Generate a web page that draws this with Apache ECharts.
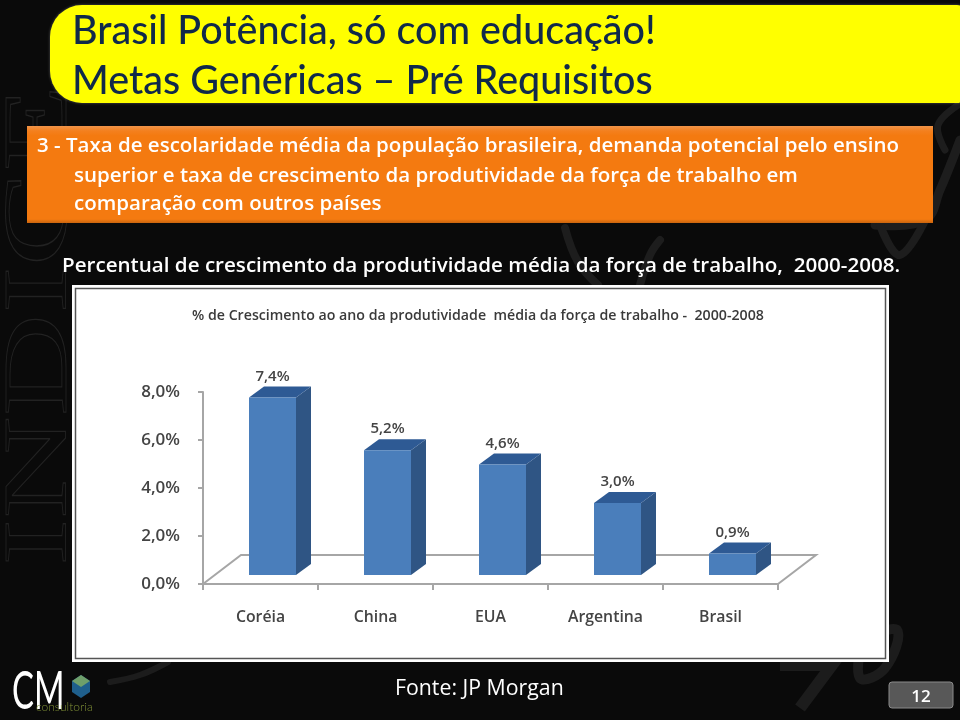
<!DOCTYPE html>
<html><head><meta charset="utf-8">
<style>html,body{margin:0;padding:0;background:#0a0a0a}#c{width:960px;height:720px}</style>
<script src="https://cdn.jsdelivr.net/npm/echarts@6/dist/echarts.min.js"></script>
</head><body><div id="c"></div>
<script>
var categories = ['Coréia', 'China', 'EUA', 'Argentina', 'Brasil'];
var growth = [7.4, 5.2, 4.6, 3.0, 0.9];
var yTicks = [0, 2, 4, 6, 8];
var chartTitle = '% de Crescimento ao ano da produtividade  média da força de trabalho -  2000-2008';
var headLines = ['Brasil Potência, só com educação!', 'Metas Genéricas – Pré Requisitos'];
var boxLines = ['3 - Taxa de escolaridade média da população brasileira, demanda potencial pelo ensino',
  'superior e taxa de crescimento da produtividade da força de trabalho em',
  'comparação com outros países'];
var subTitle = 'Percentual de crescimento da produtividade média da força de trabalho,  2000-2008.';
var source = 'Fonte: JP Morgan';
var pageNo = '12';

var DX = 15, DY = -11, FLOORX = 38, FLOORY = -29, LIFT = 9, SHIFT = 12, BW = 47;
var pct = function (v) { return v.toFixed(1).replace('.', ',') + '%'; };
var FONT = 'Lato, "Open Sans", sans-serif';

function txt(t, x, y, font, fill, extra) {
  var o = { type: 'text', x: x, y: y, z: 5, style: { text: t, x: 0, y: 0, font: font, fill: fill, verticalAlign: 'middle' } };
  return Object.assign(o, extra || {});
}
function stroke(pts, w, c) {
  return { type: 'polyline', z: 1, shape: { points: pts, smooth: 0.4 }, style: { fill: null, stroke: c || '#1d1d1d', lineWidth: w, lineCap: 'round' } };
}
var backdrop = [
  { type: 'rect', z: 0, shape: { x: 0, y: 0, width: 960, height: 720 }, style: { fill: '#0a0a0a' } },
  { type: 'text', z: 1, x: -3, y: 566, rotation: Math.PI / 2, scaleX: 1.42, scaleY: 0.9,
    style: { text: 'INDICE', x: 0, y: 0, font: '100px "Liberation Serif"', fill: 'rgba(0,0,0,0)', stroke: '#222222', lineWidth: 1 } },
  stroke([[565, 228], [578, 262], [598, 285]], 8),
  stroke([[640, 285], [650, 255], [660, 240]], 8),
  stroke([[875, 225], [925, 220], [940, 190], [960, 140]], 9),
  stroke([[880, 225], [900, 255], [930, 210]], 8),
  stroke([[960, 104], [938, 125], [945, 150]], 7),
  stroke([[110, 682], [140, 675], [168, 662]], 6, '#1c1c1c'),
  { type: 'polyline', z: 1, shape: { points: [[780, 665], [832, 665], [800, 708]] }, style: { fill: null, stroke: '#1c1c1c', lineWidth: 12 } },
  stroke([[862, 640], [860, 678], [885, 668], [897, 630], [862, 640]], 10, '#1c1c1c')
];
var header = [
  { type: 'rect', z: 2, shape: { x: 50, y: 5, width: 915, height: 98, r: [32, 8, 8, 32] },
    style: { fill: '#ffff00', shadowBlur: 3, shadowColor: 'rgba(255,255,255,0.3)' } },
  txt(headLines[0], 72, 31, '500 39.5px ' + FONT, '#10294a'),
  txt(headLines[1], 72, 81, '500 39.5px ' + FONT, '#10294a'),
  { type: 'rect', z: 2, shape: { x: 27, y: 126, width: 906, height: 97 },
    style: { fill: { type: 'linear', x: 0, y: 0, x2: 0, y2: 1, colorStops: [
      { offset: 0, color: '#f0944a' }, { offset: 0.05, color: '#f4801e' }, { offset: 0.1, color: '#f47a10' },
      { offset: 0.96, color: '#f47a10' }, { offset: 1, color: '#c9650f' }] } } },
  txt(boxLines[0], 37, 146, '600 20.5px "Open Sans", sans-serif', '#ffffff'),
  txt(boxLines[1], 74, 176, '600 20.5px "Open Sans", sans-serif', '#ffffff'),
  txt(boxLines[2], 74, 204, '600 20.5px "Open Sans", sans-serif', '#ffffff'),
  txt(subTitle, 62, 266, '600 20.6px "Open Sans", sans-serif', '#ffffff'),
  { type: 'rect', z: 2, shape: { x: 72, y: 285, width: 817, height: 377 }, style: { fill: '#ffffff' } },
  { type: 'rect', z: 3, shape: { x: 75.5, y: 288.5, width: 810, height: 370 }, style: { fill: 'none', stroke: '#555', lineWidth: 1.5 } }
];
var footer = [
  txt(source, 395, 689, '21.3px "Open Sans", sans-serif', '#ffffff'),
  { type: 'rect', z: 2, shape: { x: 889, y: 682, width: 64, height: 26, r: 3 }, style: { fill: '#585858', stroke: '#8a8a8a', lineWidth: 1 } },
  txt(pageNo, 921, 697, '600 17px "Open Sans", sans-serif', '#ffffff', {}),
  txt('CM', 12, 692, '400 53px ' + FONT, '#ffffff', { scaleX: 0.62 }),
  { type: 'polygon', z: 4, shape: { points: [[72, 681], [81, 675], [90, 681], [90, 692], [81, 698], [72, 692]] }, style: { fill: '#1f5f8c' } },
  { type: 'polygon', z: 5, shape: { points: [[72, 681], [81, 675], [90, 681], [81, 687]] }, style: { fill: '#6f9f6a' } },
  txt('consultoria', 36, 707, '300 12px ' + FONT, '#7f8f36')
];
footer[2].style.align = 'center';

var chart = echarts.init(document.getElementById('c'), null, { renderer: 'canvas' });

function renderFloor(params, api) {
  var r = params.coordSys;
  var x0 = r.x, x1 = r.x + r.width, y = r.y + r.height;
  return { type: 'polyline', silent: true,
    shape: { points: [[x0, y], [x0 + FLOORX, y + FLOORY], [x1 + FLOORX, y + FLOORY], [x1, y]] },
    style: { fill: null, stroke: '#a6a6a6', lineWidth: 2 } };
}
function renderBar(params, api) {
  var i = api.value(0), v = api.value(1);
  var base = api.coord([i, 0]), top = api.coord([i, v]);
  var l = base[0] + SHIFT - BW / 2, r = l + BW, b = base[1] - LIFT, t = top[1] - LIFT;
  return { type: 'group', children: [
    { type: 'polygon', shape: { points: [[r, t], [r + DX, t + DY], [r + DX, b + DY], [r, b]] }, style: { fill: '#2f5584' } },
    { type: 'polygon', shape: { points: [[l, t], [l + DX, t + DY], [r + DX, t + DY], [r, t]] }, style: { fill: '#2e5a94' } },
    { type: 'rect', shape: { x: l, y: t, width: BW, height: b - t }, style: { fill: '#4a7ebb' } },
    { type: 'text', x: l + BW / 2, y: t + DY - 10, style: { text: pct(v), x: 0, y: 0, align: 'center', verticalAlign: 'middle', font: '600 15px "Open Sans", sans-serif', fill: '#444' } }
  ] };
}

chart.setOption({
  animation: false,
  backgroundColor: 'transparent',
  title: { text: chartTitle, left: 192, top: 309, padding: 0, z: 6,
    textStyle: { color: '#3a3a3a', fontFamily: '"Open Sans", sans-serif', fontSize: 14.2, fontWeight: 600 } },
  grid: { left: 203, right: 182, top: 392, bottom: 136, z: 10 },
  xAxis: { type: 'category', data: categories, z: 10,
    axisLine: { lineStyle: { color: '#a6a6a6', width: 2 } },
    axisTick: { show: true, length: 6, lineStyle: { color: '#a6a6a6', width: 2 } },
    axisLabel: { margin: 25, color: '#444', fontFamily: '"Open Sans", sans-serif', fontSize: 15.8, fontWeight: 600 } },
  yAxis: { type: 'value', min: 0, max: 8, interval: 2, z: 10,
    axisLine: { show: true, lineStyle: { color: '#a6a6a6', width: 2 } },
    axisTick: { show: true, length: 5, lineStyle: { color: '#a6a6a6', width: 2 } },
    splitLine: { show: false },
    axisLabel: { margin: 23, color: '#444', fontFamily: '"Open Sans", sans-serif', fontSize: 17, fontWeight: 600,
      formatter: function (v) { return yTicks.indexOf(v) >= 0 ? pct(v) : ''; } } },
  series: [
    { type: 'custom', z: 9, renderItem: renderFloor, data: [[0, 0]], silent: true, clip: false },
    { type: 'custom', z: 11, renderItem: renderBar, clip: false, silent: true,
      encode: { x: 0, y: 1 },
      data: categories.map(function (c, i) { return [i, growth[i]]; }) }
  ],
  graphic: { elements: backdrop.concat(header, footer) }
});
</script></body></html>
